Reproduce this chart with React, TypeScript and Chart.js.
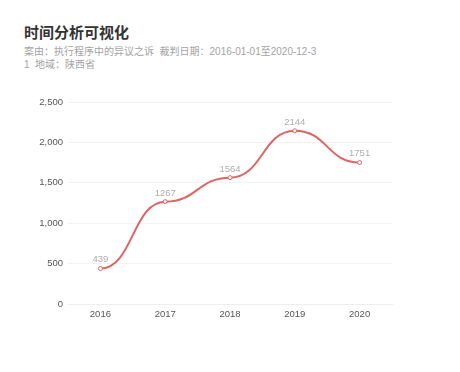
import React, { useEffect, useRef } from "react";
import { Chart, registerables } from "chart.js";

Chart.register(...registerables);

const categories = ["2016", "2017", "2018", "2019", "2020"];
const values = [439, 1267, 1564, 2144, 1751];
const yTicks = [0, 500, 1000, 1500, 2000, 2500];

const title = "时间分析可视化";
const subtitleLine1 = "案由：执行程序中的异议之诉  裁判日期：2016-01-01至2020-12-3";
const subtitleLine2 = "1  地域：陕西省";

const FONT = "'Liberation Sans', 'Noto Sans CJK SC', sans-serif";
const SMOOTH = 0.5;

// smooth curve with horizontal tangents at every point (monotone-x style)
const smoothPlugin = {
  id: "smoothX",
  beforeDatasetsDraw(chart: any) {
    const meta = chart.getDatasetMeta(0);
    const line = meta.dataset;
    if (line && line.updateControlPoints) line.updateControlPoints(chart.chartArea, "x");
    const pts = meta.data;
    for (let i = 0; i < pts.length; i++) {
      const p = pts[i];
      const prev = pts[i - 1];
      const next = pts[i + 1];
      p.cp1x = prev ? p.x - (p.x - prev.x) * SMOOTH : p.x;
      p.cp1y = p.y;
      p.cp2x = next ? p.x + (next.x - p.x) * SMOOTH : p.x;
      p.cp2y = p.y;
    }
    if (line) line._path = undefined;
  },
};

const labelPlugin = {
  id: "valueLabels",
  afterDatasetsDraw(chart: any) {
    const ctx = chart.ctx;
    const meta = chart.getDatasetMeta(0);
    ctx.save();
    ctx.fillStyle = "#adadad";
    ctx.font = "9.5px " + FONT;
    ctx.textAlign = "center";
    ctx.textBaseline = "bottom";
    meta.data.forEach((pt: any, i: number) => {
      ctx.fillText(String(values[i]), pt.x, pt.y - 4);
    });
    ctx.restore();
  },
};

export default function App() {
  const ref = useRef<HTMLCanvasElement>(null);
  useEffect(() => {
    if (!ref.current) return;
    const chart = new Chart(ref.current, {
      type: "line",
      data: {
        labels: categories,
        datasets: [
          {
            data: values,
            borderColor: "#e06363",
            borderWidth: 2,
            tension: 0.4,
            pointRadius: 2,
            pointBorderWidth: 1,
            pointBackgroundColor: "#ffffff",
            pointBorderColor: "#e06363",
            fill: false,
          },
        ],
      },
      options: {
        animation: false,
        responsive: false,
        maintainAspectRatio: false,
        layout: { padding: { left: 0, right: 68, top: 102, bottom: 48 } },
        plugins: { legend: { display: false }, tooltip: { enabled: false } },
        scales: {
          x: {
            offset: true,
            grid: { display: false, drawTicks: false },
            border: { display: true, color: "#eeeeee", width: 1 },
            ticks: { color: "#555555", font: { size: 9.5, family: FONT }, padding: 5 },
            afterFit: (s: any) => {
              s.height = 20;
            },
          },
          y: {
            min: 0,
            max: 2500,
            afterBuildTicks: (s: any) => {
              s.ticks = yTicks.map((v) => ({ value: v }));
            },
            grid: { color: "#f3f3f3", drawTicks: false },
            border: { display: false },
            ticks: {
              color: "#555555",
              font: { size: 9.5, family: FONT },
              padding: 5,
              callback: (v: any) => Number(v).toLocaleString("en-US"),
            },
            afterFit: (s: any) => {
              s.width = 68;
            },
          },
        },
      },
      plugins: [smoothPlugin, labelPlugin],
    });
    return () => chart.destroy();
  }, []);

  return (
    <div style={{ position: "fixed", left: 0, top: 0, width: 460, height: 372, background: "#fff", fontFamily: FONT }}>
      <div style={{ position: "absolute", left: 24, top: 23, fontSize: 15, fontWeight: 700, color: "#333", lineHeight: "20px", whiteSpace: "nowrap" }}>
        {title}
      </div>
      <div style={{ position: "absolute", left: 24, top: 45, fontSize: 10, color: "#a3a3a3", lineHeight: "13px", whiteSpace: "pre" }}>
        {subtitleLine1}
        {"\n"}
        {subtitleLine2}
      </div>
      <canvas ref={ref} width={460} height={372} style={{ position: "absolute", left: 0, top: 0, width: 460, height: 372 }} />
    </div>
  );
}
